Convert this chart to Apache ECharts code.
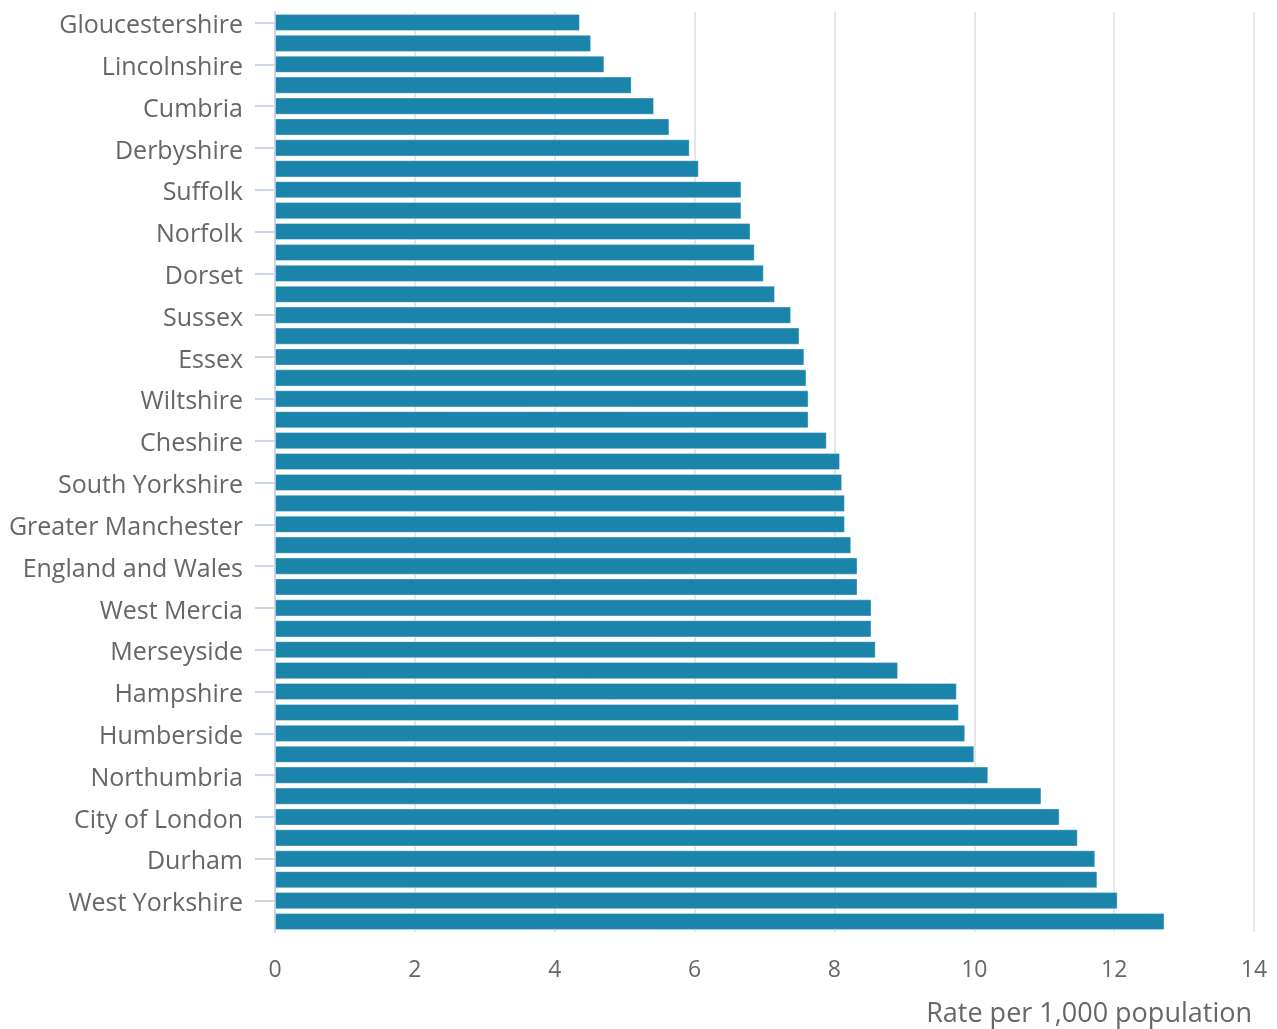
<!DOCTYPE html>
<html>
<head>
<meta charset="utf-8">
<script src="https://cdn.jsdelivr.net/npm/echarts@6/dist/echarts.min.js"></script>
<style>
html,body{margin:0;padding:0;background:#fff;}
#chart{width:1277px;height:1029px;}
</style>
</head>
<body>
<div id="chart"></div>
<script>
const categories = [
  "Gloucestershire","Surrey","Lincolnshire","North Yorkshire","Cumbria","Dyfed-Powys",
  "Derbyshire","Devon and Cornwall","Suffolk","Warwickshire","Norfolk","Hertfordshire",
  "Dorset","Thames Valley","Sussex","Avon and Somerset","Essex","Northamptonshire",
  "Wiltshire","Bedfordshire","Cheshire","Leicestershire","South Yorkshire","Staffordshire",
  "Greater Manchester","North Wales","England and Wales","Kent","West Mercia","Nottinghamshire",
  "Merseyside","Lancashire","Hampshire","Metropolitan Police","Humberside","South Wales",
  "Northumbria","West Midlands","City of London","Gwent","Durham","Cambridgeshire",
  "West Yorkshire","Cleveland"
];
const rates = [
  4.36,4.52,4.71,5.10,5.42,5.64,5.93,6.06,6.67,6.67,
  6.80,6.86,6.99,7.15,7.38,7.50,7.57,7.60,7.63,7.63,
  7.89,8.08,8.11,8.15,8.15,8.24,8.33,8.33,8.53,8.53,
  8.59,8.91,9.75,9.78,9.87,10.00,10.20,10.96,11.22,11.48,
  11.73,11.76,12.05,12.72
];
const xTicks = { min: 0, max: 14, interval: 2 };
const xTitle = "Rate per 1,000 population";

const chart = echarts.init(document.getElementById('chart'));
chart.setOption({
  animation: false,
  textStyle: { fontFamily: "'Open Sans', sans-serif" },
  grid: { left: 275, right: 23, top: 12, bottom: 97, containLabel: false },
  xAxis: {
    type: 'value',
    min: xTicks.min, max: xTicks.max, interval: xTicks.interval,
    axisLine: { show: false },
    axisTick: { show: false },
    splitLine: { lineStyle: { color: '#e6e6e6', width: 2 } },
    axisLabel: { color: '#666666', fontSize: 23, margin: 27, fontFamily: "'Open Sans', sans-serif" },
    name: xTitle,
    nameLocation: 'end',
    nameGap: -2,
    nameTextStyle: {
      color: '#666666', fontSize: 27, align: 'right', verticalAlign: 'top',
      padding: [69, 0, 0, 0], fontFamily: "'Open Sans', sans-serif"
    }
  },
  yAxis: {
    type: 'category',
    data: categories,
    inverse: true,
    axisLine: { show: true, lineStyle: { color: '#ccd6eb', width: 2 } },
    axisTick: { show: true, interval: 1, alignWithLabel: true, length: 20, lineStyle: { color: '#ccd6eb', width: 2 } },
    axisLabel: {
      interval: 1, margin: 32,
      formatter: function (v) { return '{a|' + v + '}'; },
      rich: {
        a: { color: '#666666', fontSize: 25, lineHeight: 25, padding: [7, 0, 0, 0], fontFamily: "'Open Sans', sans-serif" }
      }
    },
    splitLine: { show: false }
  },
  series: [{
    type: 'bar',
    data: rates,
    barCategoryGap: '18%',
    itemStyle: { color: '#1a84ab', borderColor: 'rgba(255,255,255,0.35)', borderWidth: 1 },
    z: 3
  }]
});
</script>
</body>
</html>
